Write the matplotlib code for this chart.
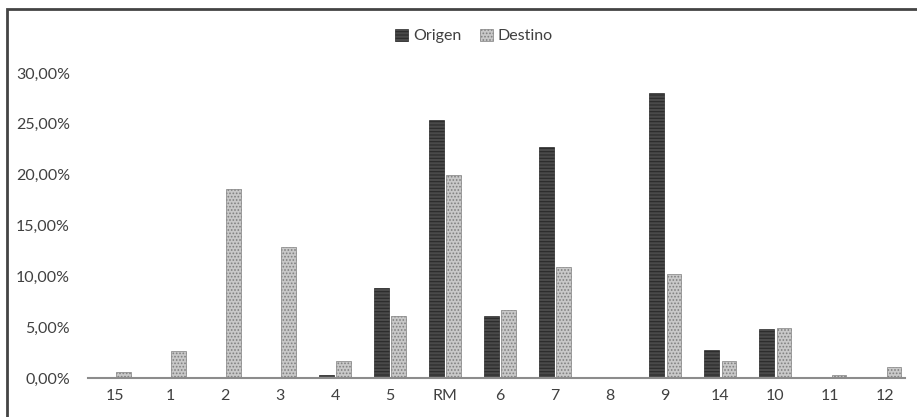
import matplotlib
matplotlib.use('Agg')
import matplotlib.pyplot as plt
from matplotlib.patches import Rectangle
from matplotlib.ticker import FuncFormatter
import numpy as np

plt.rcParams['font.family'] = ['Lato', 'DejaVu Sans']
plt.rcParams['hatch.linewidth'] = 0.8

regions = ['15', '1', '2', '3', '4', '5', 'RM', '6', '7', '8', '9', '14', '10', '11', '12']
origen = [0.0, 0.0, 0.0, 0.0, 0.3, 8.9, 25.4, 6.1, 22.7, 0.0, 28.0, 2.8, 4.8, 0.0, 0.0]
destino = [0.6, 2.7, 18.6, 12.9, 1.7, 6.1, 20.0, 6.7, 10.9, 0.0, 10.2, 1.7, 4.9, 0.3, 1.1]

fig = plt.figure(figsize=(9.17, 4.17), dpi=100)
fig.patches.append(Rectangle((7 / 917, -0.1), 1.2, 1 - 9 / 417 + 0.1, transform=fig.transFigure,
                             fill=False, edgecolor='#444444', linewidth=2.0))

ax = fig.add_axes([88 / 917, 1 - 378 / 417, (905 - 88) / 917, (378 - 73) / 417])

x = np.arange(len(regions))
w = 0.26
gap = 0.05
o = np.array(origen) / 100
d = np.array(destino) / 100
b1 = ax.bar(x - w / 2 - gap / 2, o, w, color='#4a4a4a', edgecolor='#2a2a2a', hatch='-----',
            linewidth=0.5, label='Origen')
b2 = ax.bar(x + w / 2 + gap / 2, d, w, color='#c8c8c8', edgecolor='#808080', hatch='.....',
            linewidth=0.5, label='Destino')

ax.set_xlim(-0.49, len(regions) - 1 + 0.36)
ax.set_ylim(0, 0.30)
ax.set_yticks(np.arange(0, 0.301, 0.05))
ax.yaxis.set_major_formatter(FuncFormatter(lambda v, p: f'{v * 100:.2f}%'.replace('.', ',')))
ax.set_xticks(x)
ax.set_xticklabels(regions)

for s in ['top', 'right', 'left']:
    ax.spines[s].set_visible(False)
ax.spines['bottom'].set_color('#8c8c8c')
ax.spines['bottom'].set_linewidth(1.5)
ax.tick_params(axis='both', length=0, labelsize=11.5, colors='#404040', pad=8)
ax.tick_params(axis='y', pad=13)

fig.legend(handles=[b1, b2], loc='center', bbox_to_anchor=(0.517, 1 - 36 / 417), ncol=2,
           frameon=False, fontsize=11.5, handlelength=0.8, handleheight=0.8, columnspacing=1.2,
           handletextpad=0.3, labelcolor='#404040')

fig.savefig('out.png', dpi=100)
